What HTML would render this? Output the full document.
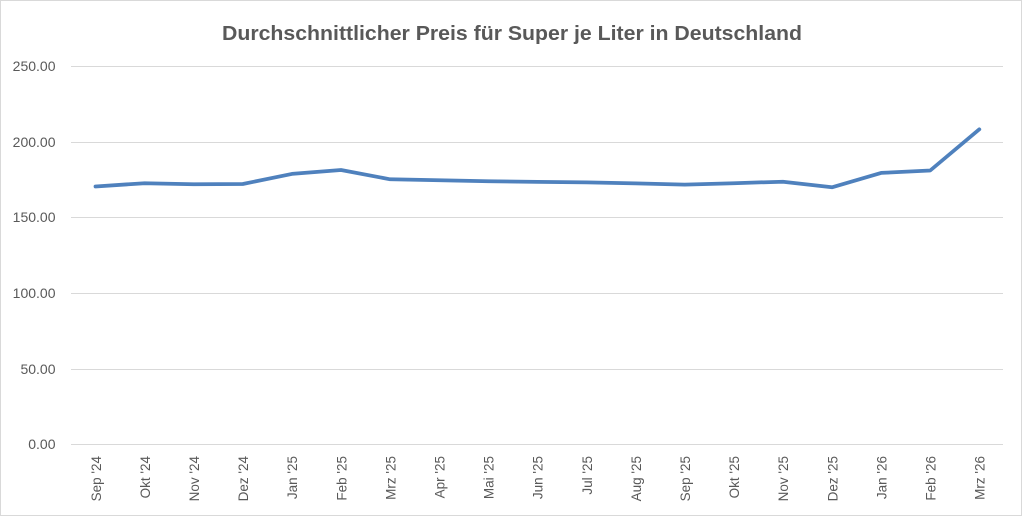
<!DOCTYPE html>
<html>
<head>
<meta charset="utf-8">
<style>
html,body{margin:0;padding:0;background:#fff;}
svg{display:block;}
text{font-family:"Liberation Sans",sans-serif;fill:#595959;}
</style>
</head>
<body>
<svg width="1024" height="517" viewBox="0 0 1024 517" xmlns="http://www.w3.org/2000/svg">
<rect x="0" y="0" width="1024" height="517" fill="#fff"/>
<path d="M0.5 0.5 H1021.5 V515.5 H0.5 Z" fill="none" stroke="#d9d9d9" stroke-width="1"/>
<text x="512" y="40" text-anchor="middle" font-size="20" font-weight="bold" textLength="580" lengthAdjust="spacingAndGlyphs">Durchschnittlicher Preis für Super je Liter in Deutschland</text>
<g stroke="#d9d9d9" stroke-width="1">
<line x1="71" x2="1003" y1="66.5" y2="66.5"/>
<line x1="71" x2="1003" y1="142.5" y2="142.5"/>
<line x1="71" x2="1003" y1="217.5" y2="217.5"/>
<line x1="71" x2="1003" y1="293.5" y2="293.5"/>
<line x1="71" x2="1003" y1="369.5" y2="369.5"/>
<line x1="71" x2="1003" y1="444.5" y2="444.5"/>
</g>
<g font-size="14" text-anchor="end">
<text x="55.5" y="71">250.00</text>
<text x="55.5" y="147">200.00</text>
<text x="55.5" y="222">150.00</text>
<text x="55.5" y="298">100.00</text>
<text x="55.5" y="374">50.00</text>
<text x="55.5" y="449">0.00</text>
</g>
<polyline fill="none" stroke="#4f81bd" stroke-width="3.75" stroke-linejoin="round" stroke-linecap="round"
points="95.5,186.5 144.6,183.2 193.7,184.3 242.8,184.0 291.9,173.9 341,170.0 390.1,179.3 439.2,180.2 488.3,181.2 537.4,181.9 586.5,182.4 635.6,183.4 684.7,184.6 733.8,183.2 782.9,181.7 832,187.3 881.1,172.9 930.2,170.5 979.3,129.3"/>
<g font-size="13.5" text-anchor="end">
<text transform="translate(100.8,456) rotate(-90)">Sep '24</text>
<text transform="translate(149.9,456) rotate(-90)">Okt '24</text>
<text transform="translate(199,456) rotate(-90)">Nov '24</text>
<text transform="translate(248.1,456) rotate(-90)">Dez '24</text>
<text transform="translate(297.2,456) rotate(-90)">Jan '25</text>
<text transform="translate(346.3,456) rotate(-90)">Feb '25</text>
<text transform="translate(395.4,456) rotate(-90)">Mrz '25</text>
<text transform="translate(444.5,456) rotate(-90)">Apr '25</text>
<text transform="translate(493.6,456) rotate(-90)">Mai '25</text>
<text transform="translate(542.7,456) rotate(-90)">Jun '25</text>
<text transform="translate(591.8,456) rotate(-90)">Jul '25</text>
<text transform="translate(640.9,456) rotate(-90)">Aug '25</text>
<text transform="translate(690,456) rotate(-90)">Sep '25</text>
<text transform="translate(739.1,456) rotate(-90)">Okt '25</text>
<text transform="translate(788.2,456) rotate(-90)">Nov '25</text>
<text transform="translate(837.3,456) rotate(-90)">Dez '25</text>
<text transform="translate(886.4,456) rotate(-90)">Jan '26</text>
<text transform="translate(935.5,456) rotate(-90)">Feb '26</text>
<text transform="translate(984.6,456) rotate(-90)">Mrz '26</text>
</g>
</svg>
</body>
</html>
